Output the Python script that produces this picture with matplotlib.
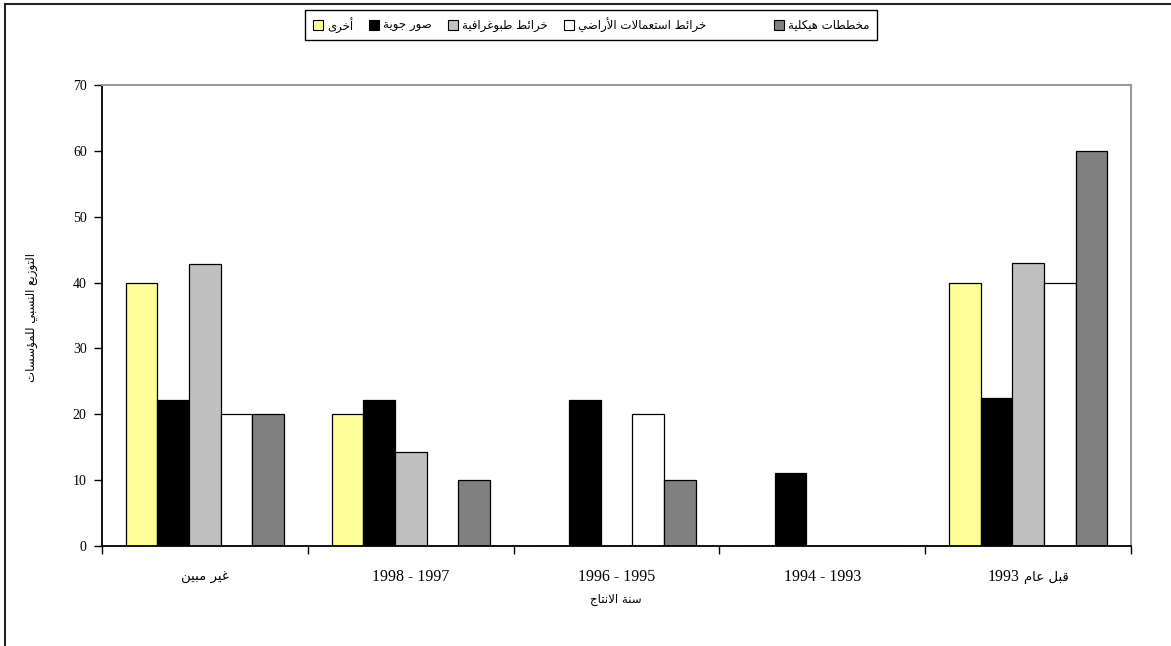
import matplotlib
matplotlib.use("Agg")
import matplotlib.pyplot as plt
import numpy as np
from matplotlib.patches import Rectangle

# ---------------- data ----------------
categories = ["غير مبين", "1998 - 1997", "1996 - 1995", "1994 - 1993", "قبل عام 1993"]
series_names = ["أخرى", "صور جوية", "خرائط طبوغرافية", "خرائط استعمالات الأراضي", "مخططات هيكلية"]
other_vals = [40, 20, 0, 0, 40]
aerial_vals = [22.2, 22.2, 22.2, 11.1, 22.4]
topo_vals = [42.8, 14.3, 0, 0, 43.0]
landuse_vals = [20, 0, 20, 0, 40]
master_vals = [20, 10, 10, 0, 60]
y_ticks = [0, 10, 20, 30, 40, 50, 60, 70]
x_title = "سنة الانتاج"
y_title = "التوزيع النسبي للمؤسسات"

series_vals = [other_vals, aerial_vals, topo_vals, landuse_vals, master_vals]
colors = ["#FFFF99", "#000000", "#C0C0C0", "#FFFFFF", "#808080"]

# ------------- Arabic shaping (presentation forms + RTL order) -------------
_FORMS = "ء1آ2أ2ؤ2إ2ئ4ا2ب4ة2ت4ث4ج4ح4خ4د2ذ2ر2ز2س4ش4ص4ض4ط4ظ4ع4غ4ف4ق4ك4ل4م4ن4ه4و2ى2ي4"
TABLE = {}
_cp = 0xFE80
for _i in range(0, len(_FORMS), 2):
    _n = int(_FORMS[_i + 1])
    TABLE[_FORMS[_i]] = (_cp, _n)
    _cp += _n
LAMALEF = {'ا': 0xFEFB, 'أ': 0xFEF7, 'إ': 0xFEF9, 'آ': 0xFEF5}


def _shape_word(w):
    items = []
    i = 0
    while i < len(w):
        c = w[i]
        if c == 'ل' and i + 1 < len(w) and w[i + 1] in LAMALEF:
            items.append((c, LAMALEF[w[i + 1]]))
            i += 2
        else:
            items.append((c, None))
            i += 1

    def joins_fwd(it):
        if it is None:
            return False
        c2, l2 = it
        return l2 is None and c2 in TABLE and TABLE[c2][1] == 4

    def is_joinable(it):
        if it is None:
            return False
        c2, l2 = it
        return l2 is not None or (c2 in TABLE and TABLE[c2][1] > 1)

    out = []
    for k, (c, lig) in enumerate(items):
        prev = items[k - 1] if k > 0 else None
        nxt = items[k + 1] if k + 1 < len(items) else None
        jp = joins_fwd(prev)
        if lig is not None:
            out.append(chr(lig + (1 if jp else 0)))
            continue
        if c not in TABLE:
            out.append(c)
            continue
        base, n = TABLE[c]
        if n == 1:
            f = 0
        else:
            jn = n == 4 and is_joinable(nxt)
            if jp and jn:
                f = 3
            elif jp:
                f = 1
            elif jn:
                f = 2
            else:
                f = 0
        out.append(chr(base + f))
    return ''.join(reversed(out))


def _has_ar(s):
    return any('\u0600' <= ch <= '\u06FF' for ch in s)


def ar(s):
    if not _has_ar(s):
        return s
    words = s.split(' ')
    shaped = [_shape_word(w) if _has_ar(w) else w for w in words]
    return ' '.join(reversed(shaped))


def visual_runs(s):
    """Split a label into visual-order runs: (text, is_arabic)."""
    if not _has_ar(s):
        return [(s, False)]
    words = list(reversed(s.split(' ')))
    runs = []
    for w in words:
        a = _has_ar(w)
        piece = _shape_word(w) if a else w
        if runs and runs[-1][1] == a:
            runs[-1] = (runs[-1][0] + ' ' + piece, a)
        else:
            runs.append((piece, a))
    return runs


# ---------------- figure ----------------
W, H = 1171, 646
fig = plt.figure(figsize=(W / 100, H / 100), dpi=100)
fig.patch.set_facecolor("white")

ax_l, ax_r, ax_t, ax_b = 102, 1131, 85, 546
ax = fig.add_axes([ax_l / W, (H - ax_b) / H, (ax_r - ax_l) / W, (ax_b - ax_t) / H])

n_series = len(series_vals)
bw = 1 / 6.5
x = np.arange(len(categories))
for j, (vals, col) in enumerate(zip(series_vals, colors)):
    ax.bar(x + (j - (n_series - 1) / 2) * bw, vals, width=bw, color=col,
           edgecolor="black", linewidth=0.9, zorder=2)

ax.set_xlim(-0.5, len(categories) - 0.5)
ax.set_ylim(0, 70)
ax.set_yticks(y_ticks)
ax.set_yticklabels([str(t) for t in y_ticks], family="Liberation Serif", fontsize=10)

ax.set_xticks(x)
ax.set_xticklabels([""] * len(categories))
ax.set_xticks(np.arange(len(categories) + 1) - 0.5, minor=True)
ax.tick_params(axis="x", which="major", length=0)
ax.tick_params(axis="x", which="minor", length=6, width=1.0, direction="out")
ax.tick_params(axis="y", length=6, width=1.0, direction="out", pad=5)

for s in ["left", "bottom"]:
    ax.spines[s].set_color("black")
    ax.spines[s].set_linewidth(1.3)
for s in ["top", "right"]:
    ax.spines[s].set_color("#999999")
    ax.spines[s].set_linewidth(1.5)

fig.text(616 / W, 1 - 600 / H, ar(x_title), ha="center", va="center",
         fontsize=8.5, family="DejaVu Sans")
fig.text(31 / W, 1 - 318 / H, ar(y_title), ha="center", va="center",
         rotation=90, fontsize=8.5, family="DejaVu Sans")

fig.canvas.draw()
renderer = fig.canvas.get_renderer()


def _run_props(is_ar):
    return dict(fontsize=9.5, family="DejaVu Sans") if is_ar else \
        dict(fontsize=11.5, family="Liberation Serif")


# category labels, centred under each group (mixed runs sized separately)
label_y = 577
for i, c in enumerate(categories):
    runs = visual_runs(c)
    ws = []
    for txt, a in runs:
        t = fig.text(0, 0, txt, **_run_props(a))
        ws.append(t.get_window_extent(renderer=renderer).width)
        t.remove()
    space = 4 if len(runs) > 1 else 0
    total = sum(ws) + space * (len(runs) - 1)
    cx = ax.transData.transform((i, 0))[0]
    xl = cx - total / 2
    for (txt, a), w in zip(runs, ws):
        fig.text(xl / W, 1 - label_y / H, txt, ha="left", va="center", **_run_props(a))
        xl += w + space

# ---------------- legend (Excel-style, drawn in pixel units) ----------------
leg_l, leg_r, leg_t, leg_b = 305, 877, 10, 40
fig.add_artist(Rectangle((leg_l / W, 1 - leg_b / H), (leg_r - leg_l) / W,
                         (leg_b - leg_t) / H, transform=fig.transFigure,
                         facecolor="white", edgecolor="black", linewidth=1.0))
yc = (leg_t + leg_b) / 2
box = 10
tgap = 4
start, end = 313, 869
widths = []
for name in series_names:
    t = fig.text(0, 0, ar(name), fontsize=8.5, family="DejaVu Sans")
    widths.append(t.get_window_extent(renderer=renderer).width)
    t.remove()
small = 16
total = sum(widths) + len(widths) * (box + tgap)
big = (end - start) - total - small * (len(widths) - 2)
gaps = [small] * (len(widths) - 2) + [big]
xpos = start
for k, (name, col) in enumerate(zip(series_names, colors)):
    fig.add_artist(Rectangle((xpos / W, 1 - (yc + box / 2) / H), box / W, box / H,
                             transform=fig.transFigure, facecolor=col,
                             edgecolor="black", linewidth=0.8))
    fig.text((xpos + box + tgap) / W, 1 - (yc + 0.5) / H, ar(name), ha="left",
             va="center", fontsize=8.5, family="DejaVu Sans")
    xpos = xpos + box + tgap + widths[k] + (gaps[k] if k < len(gaps) else 0)

# outer chart frame
fig.add_artist(Rectangle((5 / W, -0.05), 1.2, 1 - 4 / H + 0.05,
                         transform=fig.transFigure, fill=False,
                         edgecolor="#222222", linewidth=1.5, clip_on=False))

fig.savefig("out.png", dpi=100, facecolor="white")
